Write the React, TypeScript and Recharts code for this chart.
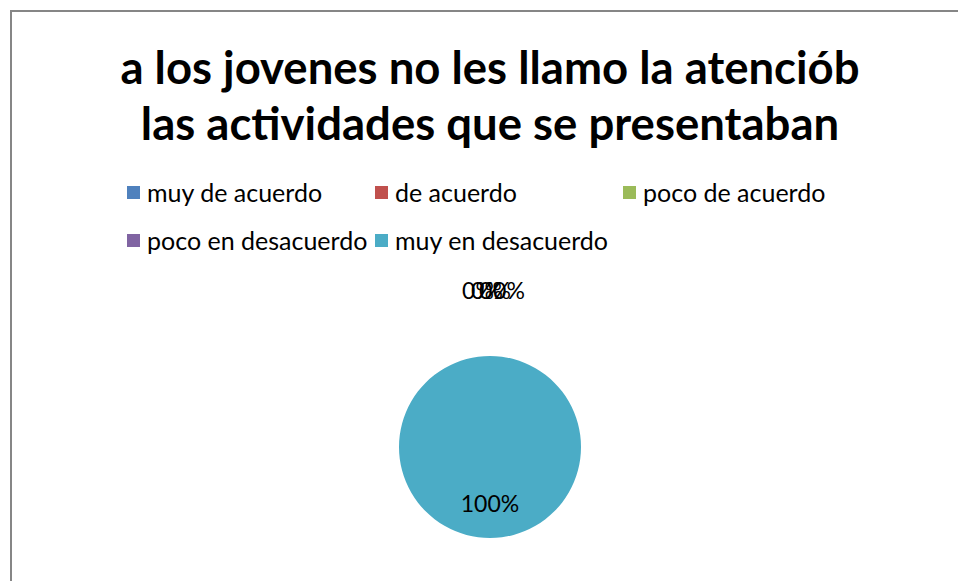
import React from "react";
import { PieChart, Pie, Cell } from "recharts";

const categories = [
  "muy de acuerdo",
  "de acuerdo",
  "poco de acuerdo",
  "poco en desacuerdo",
  "muy en desacuerdo",
];
const percentages = [0, 0, 0, 0, 100];
const sliceColors = ["#4F81BD", "#C0504D", "#9BBB59", "#8064A2", "#4BACC6"];
const titleLines = [
  "a los jovenes no les llamo la atenciób",
  "las actividades que se presentaban",
];

// the empty slices all land at 12 o'clock; Excel spreads their labels a little
const zeroLabelNudge = [-12, -3, 5, 19, 0];

const FONT = "Lato, 'Open Sans', sans-serif";

const data = categories.map((name, i) => ({ name, value: percentages[i] }));

const renderLabel = (props: any) => {
  const { cx, cy, midAngle, outerRadius, value, index } = props;
  const RADIAN = Math.PI / 180;
  const r = value === 0 ? outerRadius * 1.73 : outerRadius * 0.62;
  const x = cx + r * Math.cos(-midAngle * RADIAN) + (value === 0 ? zeroLabelNudge[index] : 0);
  const y = cy + r * Math.sin(-midAngle * RADIAN);
  return (
    <text
      key={`lbl-${index}`}
      x={x}
      y={y}
      fill="#000"
      textAnchor="middle"
      dominantBaseline="central"
      fontSize={23}
      fontFamily={FONT}
    >
      {`${value}%`}
    </text>
  );
};

export default function App() {
  return (
    <div
      style={{
        position: "absolute",
        left: 0,
        top: 0,
        width: 958,
        height: 581,
        overflow: "hidden",
        background: "#fff",
        fontFamily: FONT,
      }}
    >
      <div
        style={{
          position: "absolute",
          left: 10,
          top: 10,
          width: 1000,
          height: 700,
          border: "2px solid #868686",
          boxSizing: "border-box",
        }}
      />
      <div
        style={{
          position: "absolute",
          left: 0,
          top: 39,
          width: 980,
          textAlign: "center",
          fontWeight: 700,
          fontSize: 45.5,
          lineHeight: "56px",
          color: "#000",
        }}
      >
        {titleLines.map((t) => (
          <div key={t} style={{ whiteSpace: "nowrap" }}>{t}</div>
        ))}
      </div>
      <div
        style={{
          position: "absolute",
          left: 127,
          top: 177,
          width: 780,
          display: "grid",
          gridTemplateColumns: "248px 248px 248px",
          rowGap: 18,
          fontSize: 25,
          lineHeight: "30px",
          color: "#000",
        }}
      >
        {categories.map((c, i) => (
          <div key={c} style={{ display: "flex", alignItems: "center", whiteSpace: "nowrap" }}>
            <span
              style={{
                display: "inline-block",
                width: 13,
                height: 13,
                background: sliceColors[i],
                marginRight: 7,
              }}
            />
            {c}
          </div>
        ))}
      </div>
      <div style={{ position: "absolute", left: 0, top: 0 }}>
        <PieChart width={958} height={581} margin={{ top: 0, right: 0, bottom: 0, left: 0 }}>
          <Pie
            data={data}
            dataKey="value"
            nameKey="name"
            cx={490}
            cy={447}
            outerRadius={91}
            startAngle={90}
            endAngle={-270}
            stroke="none"
            labelLine={false}
            label={renderLabel}
            isAnimationActive={false}
          >
            {data.map((d, i) => (
              <Cell key={d.name} fill={sliceColors[i]} />
            ))}
          </Pie>
        </PieChart>
      </div>
    </div>
  );
}
